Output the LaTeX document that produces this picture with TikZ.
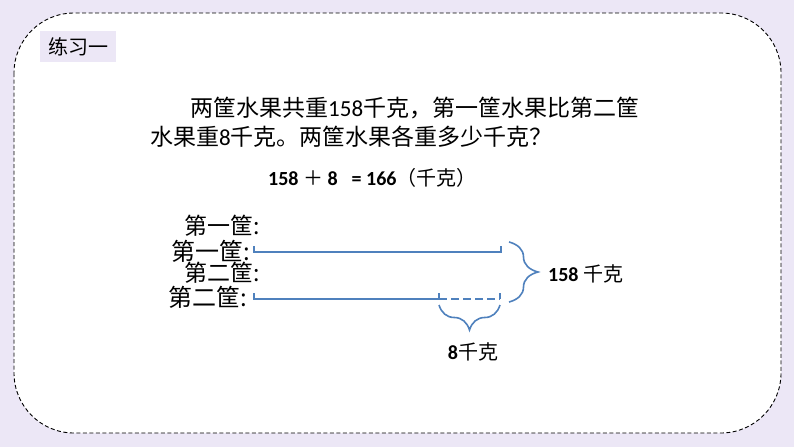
\documentclass[tikz,border=0pt]{standalone}
\usepackage{fontspec}
\setmainfont{Noto Sans CJK SC}
\newfontfamily\lat{Carlito}
\usetikzlibrary{positioning, calc, decorations.pathreplacing}
\definecolor{bgpurple}{RGB}{236,231,246}
\definecolor{barblue}{RGB}{79,129,189}
\newcommand{\fs}[1]{\fontsize{#1}{#1}\selectfont}

\begin{document}
\begin{tikzpicture}[x=1pt, y=-1pt,
    bar/.style={barblue, line width=2.6pt},
    bracebig/.style={barblue, line width=1.6pt, decorate, decoration={brace, amplitude=#1}},
    lbl/.style={inner sep=0pt, font=\fs{23}}]
    % Background and frame
    \fill[bgpurple] (0,0) rectangle (794,447);
    \draw[fill=white, line width=0.9pt, dash pattern=on 4pt off 2.5pt, rounded corners=60pt] (14,13) rectangle (781,433);
    \node[fill=bgpurple, minimum width=76pt, minimum height=31pt, inner sep=0pt, font=\fs{20}] (title) at (78,46.5) {练习一};
    
    % Question
    \node[anchor=west, inner sep=0pt, font=\fs{23}] (q1) at (190,108) {两筐水果共重{\lat 158}千克，第一筐水果比第二筐};
    \node[anchor=west, inner sep=0pt, font=\fs{23}] (q2) at (150,137) {水果重{\lat 8}千克。两筐水果各重多少千克？};
    \node[anchor=west, inner sep=0pt, font=\fs{20}] (calc) at (268,178) {{\lat\bfseries 158} ＋ {\lat\bfseries 8}\hspace{14pt}{\lat\bfseries = 166}（千克）};
    
    % Labels
    \node[lbl, anchor=east] (n1) at (260,226) {第一筐:};
    \node[lbl, anchor=east, font=\fs{24}] (n2) at (250,251) {第一筐:};
    \node[lbl, anchor=east] (n3) at (260,273) {第二筐:};
    \node[lbl, anchor=east, font=\fs{24}] (n4) at (247,297) {第二筐:};
    
    % Bars
    \coordinate (a1) at (254,252);
    \coordinate (a2) at (501,252);
    \coordinate (b1) at (254,299);
    \coordinate (b2) at (439,299);
    \coordinate (b3) at (500,299);
    \draw[bar] ($(a1)+(0,-6)$) -- (a1) -- (a2) -- ++(0,-6);
    \draw[bar] ($(b1)+(0,-6)$) -- (b1) -- (b2) -- ++(0,-6);
    \draw[bar, dash pattern=on 8pt off 4pt] (b2) -- (b3);
    \draw[bar] (b3) -- ++(0,-6);
    
    % Braces
    \coordinate (r1) at (509,242);
    \coordinate (r2) at (509,302);
    \draw[bracebig=29pt] (r1) -- (r2);
    \node[anchor=west, inner sep=0pt, font=\fs{20}] (total) at (548,274) {{\lat\bfseries 158} 千克};
    \coordinate (d1) at (500,305);
    \coordinate (d2) at (439,305);
    \draw[bracebig=25pt] (d1) -- (d2);
    \node[inner sep=0pt, font=\fs{20}] (diff) at (473,352) {{\lat\bfseries 8}千克};
\end{tikzpicture}
\end{document}
